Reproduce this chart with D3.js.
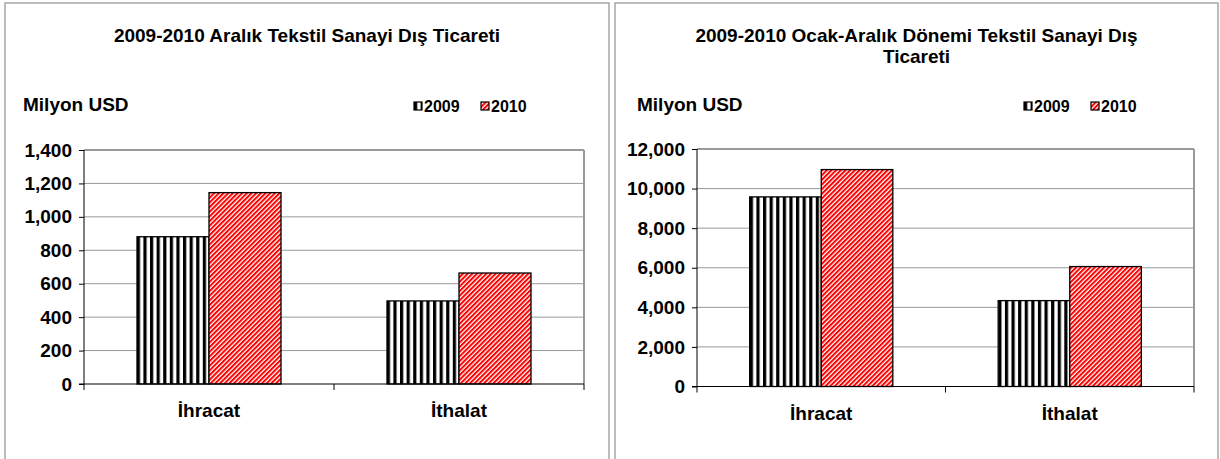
<!DOCTYPE html>
<html>
<head>
<meta charset="utf-8">
<script src="https://cdn.jsdelivr.net/npm/d3@7"></script>
<style>
  body { margin: 0; background: #fff; }
  text { font-family: "Liberation Sans", Arial, sans-serif; font-weight: bold; fill: #000; }
</style>
</head>
<body>
<div id="chart"></div>
<script>
const categories = ["İhracat", "İthalat"];
const years = ["2009", "2010"];

// Aralık (December)
const decTitle = ["2009-2010 Aralık Tekstil Sanayi Dış Ticareti"];
const dec2009 = [881, 497];
const dec2010 = [1145, 664];
const decTicks = [0, 200, 400, 600, 800, 1000, 1200, 1400];

// Ocak-Aralık (full year)
const annualTitle = ["2009-2010 Ocak-Aralık Dönemi Tekstil Sanayi Dış", "Ticareti"];
const annual2009 = [9580, 4340];
const annual2010 = [10960, 6060];
const annualTicks = [0, 2000, 4000, 6000, 8000, 10000, 12000];

const svg = d3.select("#chart").append("svg")
    .attr("width", 1220)
    .attr("height", 459);

const defs = svg.append("defs");

// vertical black stripes for 2009
const pv = defs.append("pattern")
    .attr("id", "stripes2009")
    .attr("patternUnits", "userSpaceOnUse")
    .attr("width", 6.6)
    .attr("height", 10);
pv.append("rect").attr("width", 6.6).attr("height", 10).attr("fill", "#fff");
pv.append("rect").attr("width", 3.2).attr("height", 10).attr("fill", "#000");

// red diagonal stripes for 2010
const pd = defs.append("pattern")
    .attr("id", "stripes2010")
    .attr("patternUnits", "userSpaceOnUse")
    .attr("width", 3.3)
    .attr("height", 10)
    .attr("patternTransform", "rotate(45)");
pd.append("rect").attr("width", 3.3).attr("height", 10).attr("fill", "#fff");
pd.append("rect").attr("width", 2).attr("height", 10).attr("fill", "#ff0000");

const fills = { "2009": "url(#stripes2009)", "2010": "url(#stripes2010)" };

function drawPanel(opts) {
    const { box, plot, title, v2009, v2010, ticks, legendX, labelX } = opts;
    const g = svg.append("g");

    // panel frame
    g.append("rect")
        .attr("x", box.x).attr("y", box.y)
        .attr("width", box.w).attr("height", box.h)
        .attr("fill", "#fff")
        .attr("stroke", "#a6a6a6")
        .attr("stroke-width", 1.5);

    // title
    const cx = box.x + box.w / 2;
    title.forEach((t, i) => {
        g.append("text")
            .attr("x", cx)
            .attr("y", 42 + i * 21)
            .attr("text-anchor", "middle")
            .style("font-size", "19px")
            .text(t);
    });

    // unit label
    g.append("text")
        .attr("x", labelX)
        .attr("y", 111)
        .style("font-size", "19px")
        .text("Milyon USD");

    // legend
    const lg = g.append("g").attr("transform", `translate(${legendX}, 0)`);
    years.forEach((yr, i) => {
        const ox = i * 67;
        lg.append("rect")
            .attr("x", ox).attr("y", 102)
            .attr("width", 8).attr("height", 8)
            .attr("fill", fills[yr])
            .attr("stroke", "#000").attr("stroke-width", 1.2);
        lg.append("text")
            .attr("x", ox + 10).attr("y", 112)
            .style("font-size", "16px")
            .text(yr);
    });

    const y = d3.scaleLinear()
        .domain([0, d3.max(ticks)])
        .range([plot.bottom, plot.top]);

    const x0 = d3.scaleBand()
        .domain(categories)
        .range([plot.left, plot.right]);

    const x1 = d3.scaleBand()
        .domain(years)
        .range([0, x0.bandwidth()])
        .paddingOuter(0.736);

    // gridlines
    g.append("g").selectAll("line")
        .data(ticks.filter(d => d > 0))
        .join("line")
        .attr("x1", plot.left).attr("x2", plot.right)
        .attr("y1", d => y(d)).attr("y2", d => y(d))
        .attr("stroke", "#999")
        .attr("stroke-width", d => d === d3.max(ticks) ? 2 : 1);

    // plot area right border
    g.append("line")
        .attr("x1", plot.right).attr("x2", plot.right)
        .attr("y1", plot.top).attr("y2", plot.bottom)
        .attr("stroke", "#999").attr("stroke-width", 2);

    // bars
    const rows = categories.map((c, i) => ({ cat: c, vals: [
        { year: "2009", value: v2009[i] },
        { year: "2010", value: v2010[i] }
    ] }));

    g.append("g").selectAll("g")
        .data(rows)
        .join("g")
        .attr("transform", d => `translate(${x0(d.cat)}, 0)`)
        .selectAll("rect")
        .data(d => d.vals)
        .join("rect")
        .attr("x", d => x1(d.year))
        .attr("width", x1.bandwidth())
        .attr("y", d => y(d.value))
        .attr("height", d => y(0) - y(d.value))
        .attr("fill", d => fills[d.year])
        .attr("stroke", "#000")
        .attr("stroke-width", 1.3);

    // y axis
    const yAxis = d3.axisLeft(y)
        .tickValues(ticks)
        .tickSize(5)
        .tickPadding(7)
        .tickFormat(d3.format(","));

    const ya = g.append("g")
        .attr("transform", `translate(${plot.left}, 0)`)
        .call(yAxis);
    ya.select(".domain").attr("stroke", "#000").attr("d", `M0,${plot.top}V${plot.bottom}`);
    ya.selectAll(".tick line").attr("stroke", "#000");
    ya.selectAll("text")
        .style("font-size", "19px")
        .style("font-family", "'Liberation Sans', Arial, sans-serif")
        .style("font-weight", "bold")
        .attr("fill", "#000");

    // x axis
    const xa = g.append("g")
        .attr("transform", `translate(0, ${plot.bottom})`);
    xa.append("line")
        .attr("x1", plot.left - 5).attr("x2", plot.right)
        .attr("stroke", "#000");
    xa.selectAll("line.tk")
        .data([plot.left, ...categories.map(c => x0(c) + x0.bandwidth())])
        .join("line")
        .attr("class", "tk")
        .attr("x1", d => d).attr("x2", d => d)
        .attr("y1", 0).attr("y2", 6)
        .attr("stroke", "#000");
    xa.selectAll("text")
        .data(categories)
        .join("text")
        .attr("x", d => x0(d) + x0.bandwidth() / 2)
        .attr("y", 33)
        .attr("text-anchor", "middle")
        .style("font-size", "19px")
        .text(d => d);
}

drawPanel({
    box: { x: 5, y: 3, w: 604, h: 470 },
    plot: { left: 84, right: 584, top: 150, bottom: 384 },
    title: decTitle,
    v2009: dec2009,
    v2010: dec2010,
    ticks: decTicks,
    legendX: 414,
    labelX: 23
});

drawPanel({
    box: { x: 615, y: 3, w: 603, h: 470 },
    plot: { left: 697, right: 1194, top: 149, bottom: 386.5 },
    title: annualTitle,
    v2009: annual2009,
    v2010: annual2010,
    ticks: annualTicks,
    legendX: 1024,
    labelX: 637
});
</script>
</body>
</html>
